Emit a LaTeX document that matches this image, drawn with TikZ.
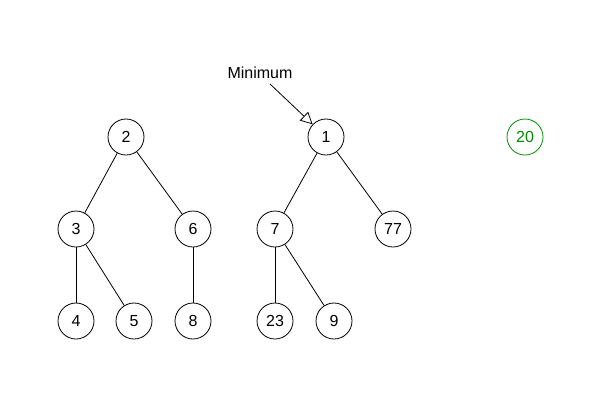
\documentclass[tikz,border=0pt]{standalone}
\usepackage{fontspec}
\setmainfont{Liberation Sans}
\usetikzlibrary{arrows.meta}
\begin{document}
\begin{tikzpicture}[x=1pt,y=-1pt,
  heapnode/.style={circle,draw,line width=0.8pt,minimum size=36pt,inner sep=0pt,font=\fontsize{16}{18}\selectfont},
  rootnew/.style={heapnode,draw=green!55!black,text=green!55!black},
  edge/.style={line width=0.8pt},
  every node/.append style={font=\fontsize{16}{18}\selectfont}]
\useasboundingbox (0,0) rectangle (600,400);
% first tree
\node[heapnode] (n2) at (126,137) {2};
\node[heapnode] (n3) at (76,229) {3};
\node[heapnode] (n6) at (193,229) {6};
\node[heapnode] (n4) at (76,321) {4};
\node[heapnode] (n5) at (134,321) {5};
\node[heapnode] (n8) at (193,321) {8};
% second tree
\node[heapnode] (n1) at (326,137) {1};
\node[heapnode] (n7) at (275,229) {7};
\node[heapnode] (n77) at (393,229) {77};
\node[heapnode] (n23) at (275,321) {23};
\node[heapnode] (n9) at (334,321) {9};
% single tree
\node[rootnew] (n20) at (525,137) {20};
% edges
\draw[edge] (n2) -- (n3);
\draw[edge] (n2) -- (n6);
\draw[edge] (n3) -- (n4);
\draw[edge] (n3) -- (n5);
\draw[edge] (n6) -- (n8);
\draw[edge] (n1) -- (n7);
\draw[edge] (n1) -- (n77);
\draw[edge] (n7) -- (n23);
\draw[edge] (n7) -- (n9);
% minimum pointer
\node (minlbl) at (260,73) {Minimum};
\coordinate (minstart) at (270,84);
\draw[edge,-{Triangle[open,length=12pt,width=12pt]}] (minstart) -- (n1);
\end{tikzpicture}
\end{document}
